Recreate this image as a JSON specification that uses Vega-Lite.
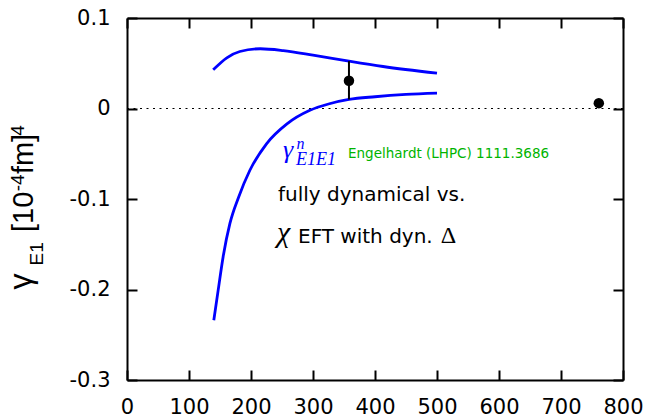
{
  "$schema": "https://vega.github.io/schema/vega-lite/v6.json",
  "width": 496,
  "height": 362,
  "autosize": {"type": "none"},
  "padding": {"left": 127, "top": 18, "right": 30, "bottom": 39},
  "background": "white",
  "config": {"view": {"stroke": null}, "font": "DejaVu Sans"},
  "datasets": {
    "curves": [
      {"series": "upper", "mpi": 139, "gamma": 0.0427},
      {"series": "upper", "mpi": 161, "gamma": 0.056},
      {"series": "upper", "mpi": 182, "gamma": 0.063},
      {"series": "upper", "mpi": 215, "gamma": 0.066},
      {"series": "upper", "mpi": 252, "gamma": 0.064},
      {"series": "upper", "mpi": 300, "gamma": 0.059},
      {"series": "upper", "mpi": 358, "gamma": 0.0523},
      {"series": "upper", "mpi": 413, "gamma": 0.0464},
      {"series": "upper", "mpi": 500, "gamma": 0.039},
      {"series": "lower", "mpi": 140, "gamma": -0.234},
      {"series": "lower", "mpi": 147, "gamma": -0.201},
      {"series": "lower", "mpi": 155, "gamma": -0.164},
      {"series": "lower", "mpi": 166, "gamma": -0.127},
      {"series": "lower", "mpi": 180, "gamma": -0.098},
      {"series": "lower", "mpi": 198, "gamma": -0.0685},
      {"series": "lower", "mpi": 225, "gamma": -0.039},
      {"series": "lower", "mpi": 258, "gamma": -0.017},
      {"series": "lower", "mpi": 295, "gamma": -0.002},
      {"series": "lower", "mpi": 325, "gamma": 0.005},
      {"series": "lower", "mpi": 358, "gamma": 0.01},
      {"series": "lower", "mpi": 400, "gamma": 0.013},
      {"series": "lower", "mpi": 450, "gamma": 0.0155},
      {"series": "lower", "mpi": 500, "gamma": 0.0169}
    ],
    "points": [
      {"mpi": 358, "gamma": 0.0306},
      {"mpi": 761, "gamma": 0.0059}
    ],
    "errbar": [{"mpi": 358, "lo": 0.01, "hi": 0.0523}],
    "zero": [{"gamma": 0}],
    "gam": [{"mpi": 251.6, "gamma": -0.0552, "t": "γ"}],
    "supn": [{"mpi": 273.5, "gamma": -0.0453, "t": "n"}],
    "subE": [{"mpi": 272.6, "gamma": -0.0619, "t": "E1E1"}],
    "green": [{"mpi": 356.5, "gamma": -0.0552, "t": "Engelhardt (LHPC) 1111.3686"}],
    "black": [
      {"mpi": 243.5, "gamma": -0.1024, "t": "fully dynamical vs."},
      {"mpi": 275.8, "gamma": -0.1488, "t": "EFT with dyn."}
    ],
    "chi": [{"mpi": 241.9, "gamma": -0.148, "t": "χ"}],
    "delta": [{"mpi": 506, "gamma": -0.1488, "t": "Δ"}],
    "ttlGamma": [{"mpi": -155, "gamma": -0.2, "t": "γ"}],
    "ttlBig": [
      {"mpi": -151.6, "gamma": -0.1365, "t": "[10"},
      {"mpi": -151.6, "gamma": -0.0725, "t": "fm]"}
    ],
    "ttlSub": [{"mpi": -135.5, "gamma": -0.1735, "t": "E1"}],
    "ttlSup": [
      {"mpi": -166, "gamma": -0.0915, "t": "-4"},
      {"mpi": -166, "gamma": -0.03, "t": "4"}
    ]
  },
  "layer": [
    {
      "layer": [
        {
          "data": {"name": "zero"},
          "mark": {"type": "rule", "color": "black", "strokeWidth": 1, "strokeDash": [2, 4.5]},
          "encoding": {
            "y": {"field": "gamma", "type": "quantitative", "scale": {"domain": [-0.3, 0.1], "nice": false, "zero": false}}
          }
        },
        {
          "data": {"name": "curves"},
          "mark": {"type": "line", "interpolate": "monotone", "color": "#0000ff", "strokeWidth": 2.8},
          "encoding": {
            "x": {
              "field": "mpi", "type": "quantitative",
              "scale": {"domain": [0, 800], "nice": false, "zero": false},
              "axis": {
                "orient": "bottom", "values": [0, 100, 200, 300, 400, 500, 600, 700, 800],
                "title": null, "grid": false, "tickSize": -10, "tickWidth": 2, "tickColor": "black",
                "domainColor": "black", "domainWidth": 2, "labelFontSize": 21, "labelFont": "DejaVu Sans",
                "labelColor": "black", "labelPadding": 26, "labelFlush": false, "labelOverlap": false, "labelBound": false
              }
            },
            "y": {
              "field": "gamma", "type": "quantitative",
              "scale": {"domain": [-0.3, 0.1], "nice": false, "zero": false},
              "axis": {
                "orient": "left", "values": [-0.3, -0.2, -0.1, 0, 0.1],
                "labelExpr": "replace(format(datum.value, '~g'), '−', '-')",
                "title": null, "grid": false, "tickSize": -10, "tickWidth": 2, "tickColor": "black",
                "domainColor": "black", "domainWidth": 2, "labelFontSize": 21, "labelFont": "DejaVu Sans",
                "labelColor": "black", "labelPadding": 27, "labelFlush": false, "labelOverlap": false, "labelBound": false
              }
            },
            "detail": {"field": "series", "type": "nominal"}
          }
        },
        {
          "data": {"name": "errbar"},
          "mark": {"type": "rule", "color": "black", "strokeWidth": 2},
          "encoding": {
            "x": {"field": "mpi", "type": "quantitative", "scale": {"domain": [0, 800], "nice": false, "zero": false}},
            "y": {"field": "lo", "type": "quantitative", "scale": {"domain": [-0.3, 0.1], "nice": false, "zero": false}},
            "y2": {"field": "hi"}
          }
        },
        {
          "data": {"name": "points"},
          "mark": {"type": "point", "filled": true, "color": "black", "opacity": 1, "size": 110},
          "encoding": {
            "x": {"field": "mpi", "type": "quantitative", "scale": {"domain": [0, 800], "nice": false, "zero": false}},
            "y": {"field": "gamma", "type": "quantitative", "scale": {"domain": [-0.3, 0.1], "nice": false, "zero": false}}
          }
        },
        {
          "data": {"name": "gam"},
          "mark": {"type": "text", "font": "Liberation Serif", "fontStyle": "italic", "fontSize": 26, "color": "#0000ff", "align": "left", "baseline": "alphabetic"},
          "encoding": {
            "x": {"field": "mpi", "type": "quantitative", "scale": {"domain": [0, 800], "nice": false, "zero": false}},
            "y": {"field": "gamma", "type": "quantitative", "scale": {"domain": [-0.3, 0.1], "nice": false, "zero": false}},
            "text": {"field": "t"}
          }
        },
        {
          "data": {"name": "supn"},
          "mark": {"type": "text", "font": "Liberation Serif", "fontStyle": "italic", "fontSize": 16, "color": "#0000ff", "align": "left", "baseline": "alphabetic"},
          "encoding": {
            "x": {"field": "mpi", "type": "quantitative", "scale": {"domain": [0, 800], "nice": false, "zero": false}},
            "y": {"field": "gamma", "type": "quantitative", "scale": {"domain": [-0.3, 0.1], "nice": false, "zero": false}},
            "text": {"field": "t"}
          }
        },
        {
          "data": {"name": "subE"},
          "mark": {"type": "text", "font": "Liberation Serif", "fontStyle": "italic", "fontSize": 18, "color": "#0000ff", "align": "left", "baseline": "alphabetic"},
          "encoding": {
            "x": {"field": "mpi", "type": "quantitative", "scale": {"domain": [0, 800], "nice": false, "zero": false}},
            "y": {"field": "gamma", "type": "quantitative", "scale": {"domain": [-0.3, 0.1], "nice": false, "zero": false}},
            "text": {"field": "t"}
          }
        },
        {
          "data": {"name": "green"},
          "mark": {"type": "text", "font": "DejaVu Sans", "fontSize": 13.5, "color": "#00b400", "align": "left", "baseline": "alphabetic"},
          "encoding": {
            "x": {"field": "mpi", "type": "quantitative", "scale": {"domain": [0, 800], "nice": false, "zero": false}},
            "y": {"field": "gamma", "type": "quantitative", "scale": {"domain": [-0.3, 0.1], "nice": false, "zero": false}},
            "text": {"field": "t"}
          }
        },
        {
          "data": {"name": "black"},
          "mark": {"type": "text", "font": "DejaVu Sans", "fontSize": 20, "color": "black", "align": "left", "baseline": "alphabetic"},
          "encoding": {
            "x": {"field": "mpi", "type": "quantitative", "scale": {"domain": [0, 800], "nice": false, "zero": false}},
            "y": {"field": "gamma", "type": "quantitative", "scale": {"domain": [-0.3, 0.1], "nice": false, "zero": false}},
            "text": {"field": "t"}
          }
        },
        {
          "data": {"name": "chi"},
          "mark": {"type": "text", "font": "Liberation Serif", "fontStyle": "italic", "fontSize": 30, "color": "black", "align": "left", "baseline": "alphabetic"},
          "encoding": {
            "x": {"field": "mpi", "type": "quantitative", "scale": {"domain": [0, 800], "nice": false, "zero": false}},
            "y": {"field": "gamma", "type": "quantitative", "scale": {"domain": [-0.3, 0.1], "nice": false, "zero": false}},
            "text": {"field": "t"}
          }
        },
        {
          "data": {"name": "delta"},
          "mark": {"type": "text", "font": "Liberation Serif", "fontSize": 24, "color": "black", "align": "left", "baseline": "alphabetic"},
          "encoding": {
            "x": {"field": "mpi", "type": "quantitative", "scale": {"domain": [0, 800], "nice": false, "zero": false}},
            "y": {"field": "gamma", "type": "quantitative", "scale": {"domain": [-0.3, 0.1], "nice": false, "zero": false}},
            "text": {"field": "t"}
          }
        },
        {
          "data": {"name": "ttlGamma"},
          "mark": {"type": "text", "font": "Liberation Sans", "fontSize": 32, "color": "black", "align": "left", "baseline": "alphabetic", "angle": 270},
          "encoding": {
            "x": {"field": "mpi", "type": "quantitative", "scale": {"domain": [0, 800], "nice": false, "zero": false}},
            "y": {"field": "gamma", "type": "quantitative", "scale": {"domain": [-0.3, 0.1], "nice": false, "zero": false}},
            "text": {"field": "t"}
          }
        },
        {
          "data": {"name": "ttlBig"},
          "mark": {"type": "text", "font": "Liberation Sans", "fontSize": 29, "color": "black", "align": "left", "baseline": "alphabetic", "angle": 270},
          "encoding": {
            "x": {"field": "mpi", "type": "quantitative", "scale": {"domain": [0, 800], "nice": false, "zero": false}},
            "y": {"field": "gamma", "type": "quantitative", "scale": {"domain": [-0.3, 0.1], "nice": false, "zero": false}},
            "text": {"field": "t"}
          }
        },
        {
          "data": {"name": "ttlSub"},
          "mark": {"type": "text", "font": "Liberation Sans", "fontSize": 19, "color": "black", "align": "left", "baseline": "alphabetic", "angle": 270},
          "encoding": {
            "x": {"field": "mpi", "type": "quantitative", "scale": {"domain": [0, 800], "nice": false, "zero": false}},
            "y": {"field": "gamma", "type": "quantitative", "scale": {"domain": [-0.3, 0.1], "nice": false, "zero": false}},
            "text": {"field": "t"}
          }
        },
        {
          "data": {"name": "ttlSup"},
          "mark": {"type": "text", "font": "Liberation Sans", "fontSize": 19, "color": "black", "align": "left", "baseline": "alphabetic", "angle": 270},
          "encoding": {
            "x": {"field": "mpi", "type": "quantitative", "scale": {"domain": [0, 800], "nice": false, "zero": false}},
            "y": {"field": "gamma", "type": "quantitative", "scale": {"domain": [-0.3, 0.1], "nice": false, "zero": false}},
            "text": {"field": "t"}
          }
        }
      ]
    },
    {
      "data": {"name": "points"},
      "mark": {"type": "point", "opacity": 0},
      "encoding": {
        "x": {
          "field": "mpi", "type": "quantitative",
          "scale": {"domain": [0, 800], "nice": false, "zero": false},
          "axis": {
            "orient": "top", "values": [0, 100, 200, 300, 400, 500, 600, 700, 800], "labels": false,
            "title": null, "grid": false, "tickSize": -10, "tickWidth": 2, "tickColor": "black",
            "domainColor": "black", "domainWidth": 2
          }
        },
        "y": {
          "field": "gamma", "type": "quantitative",
          "scale": {"domain": [-0.3, 0.1], "nice": false, "zero": false},
          "axis": {
            "orient": "right", "values": [-0.3, -0.2, -0.1, 0, 0.1], "labels": false,
            "title": null, "grid": false, "tickSize": -10, "tickWidth": 2, "tickColor": "black",
            "domainColor": "black", "domainWidth": 2
          }
        }
      }
    }
  ],
  "resolve": {"axis": {"x": "independent", "y": "independent"}}
}
